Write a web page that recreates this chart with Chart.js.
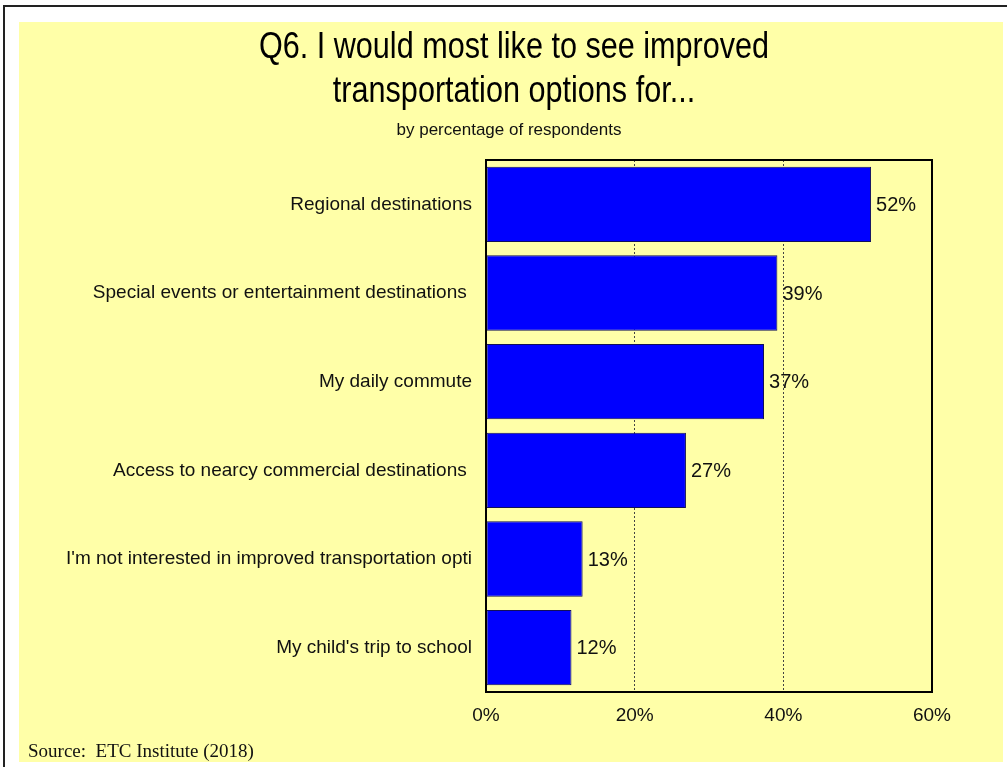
<!DOCTYPE html>
<html>
<head>
<meta charset="utf-8">
<script src="https://cdn.jsdelivr.net/npm/chart.js@4.4.1/dist/chart.umd.min.js"></script>
<style>
  html, body { margin:0; padding:0; background:#fff; }
  body { width:1007px; height:767px; position:relative; overflow:hidden; }
  #frame { position:absolute; left:3px; top:5px; width:1010px; height:770px; border-top:2px solid #222; border-left:2px solid #222; }
  #panel { position:absolute; left:19px; top:22px; width:984px; height:740px; background:#ffffa8; }
</style>
</head>
<body>
<div id="frame"></div>
<div id="panel"><canvas id="q6Chart" width="984" height="740"></canvas></div>
<script>
// data
const categories = [
  'Regional destinations',
  'Special events or entertainment destinations ',
  'My daily commute',
  'Access to nearcy commercial destinations ',
  "I'm not interested in improved transportation opti",
  "My child's trip to school"
];
const percents = [51.8, 39.2, 37.4, 26.9, 13.0, 11.5];
const xTicks = [0, 20, 40, 60];
const titleLines = ['Q6. I would most like to see improved', 'transportation options for...'];
const subtitleText = 'by percentage of respondents';
const sourceText = 'Source:  ETC Institute (2018)';

(function(){
  const cvs = document.getElementById('q6Chart');
  if (!cvs) return;
  const SANS = '"Liberation Sans", Arial, sans-serif';

  // title (condensed), value labels, frame, source line
  const extras = {
    id: 'extras',
    afterDatasetsDraw(chart) {
      const ctx = chart.ctx, a = chart.chartArea;
      ctx.save();
      ctx.strokeStyle = '#000';
      ctx.lineWidth = 2;
      ctx.strokeRect(a.left, a.top, a.right - a.left, a.bottom - a.top);

      ctx.fillStyle = '#111';
      ctx.font = '20px ' + SANS;
      ctx.textBaseline = 'middle';
      ctx.textAlign = 'left';
      chart.getDatasetMeta(0).data.forEach((bar, i) => {
        ctx.fillText(Math.round(percents[i]) + '%', bar.x + 5, bar.y + 1);
      });

      ctx.textBaseline = 'alphabetic';
      ctx.font = '19px "Liberation Serif", "Times New Roman", serif';
      ctx.fillText(sourceText, 9, 735);

      ctx.textAlign = 'center';
      ctx.font = '17px ' + SANS;
      ctx.fillText(subtitleText, 490, 113);

      ctx.fillStyle = '#000';
      ctx.font = '36px ' + SANS;
      [36, 80].forEach((y, i) => {
        ctx.save();
        ctx.translate(495, y);
        ctx.scale(0.85, 1);
        ctx.fillText(titleLines[i], 0, 0);
        ctx.restore();
      });
      ctx.restore();
    }
  };

  new Chart(cvs, {
    type: 'bar',
    data: {
      labels: categories,
      datasets: [{
        data: percents,
        backgroundColor: '#0000ff',
        borderColor: '#10105a',
        borderWidth: 1,
        borderSkipped: false,
        barPercentage: 0.85,
        categoryPercentage: 1
      }]
    },
    options: {
      responsive: false,
      animation: false,
      indexAxis: 'y',
      layout: { padding: { left: 0, right: 71, top: 138, bottom: 0 } },
      plugins: {
        legend: { display: false },
        tooltip: { enabled: false }
      },
      scales: {
        x: {
          min: 0, max: 60,
          afterBuildTicks: s => { s.ticks = xTicks.map(v => ({ value: v })); },
          afterFit: s => { s.height = 70; },
          grid: { color: '#444', lineWidth: 1, drawTicks: false },
          border: { display: false, dash: [2, 2] },
          ticks: { padding: 12, color: '#111', font: { family: SANS, size: 19 }, callback: v => v + '%' }
        },
        y: {
          afterFit: s => { s.width = 467; },
          grid: { display: false },
          border: { display: false },
          ticks: { padding: 6, color: '#111', font: { family: SANS, size: 19 } }
        }
      }
    },
    plugins: [extras]
  });
})();
</script>
</body>
</html>
